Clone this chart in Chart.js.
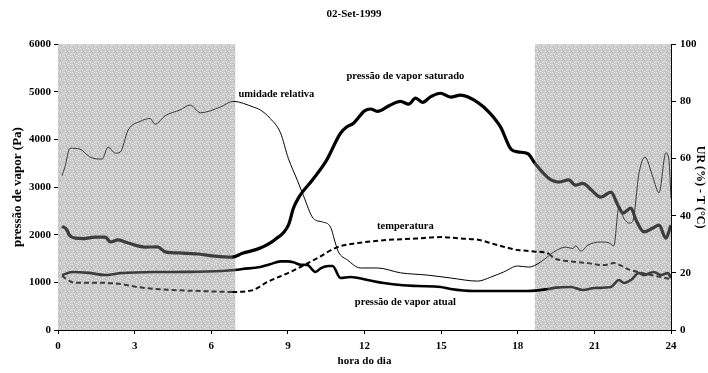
<!DOCTYPE html>
<html>
<head>
<meta charset="utf-8">
<script src="https://cdn.jsdelivr.net/npm/chart.js@4"></script>
<style>
  body { margin: 0; background: #fff; }
  canvas { display: block; }
</style>
</head>
<body>
<canvas id="myChart" width="708" height="373"></canvas>
<script>
    // pressão de vapor saturado (Pa)
    const horasSat = [0.16, 0.35, 0.45, 0.67, 1.0, 1.45, 1.85, 2.05, 2.35, 2.75, 3.4, 3.9, 4.2, 4.86, 5.5, 6.16, 6.82,
      7.22, 7.92, 8.5, 9.02, 9.22, 9.41, 9.96, 10.5, 11.06, 11.3, 11.57, 12.0, 12.24, 12.5, 13.0, 13.41, 13.73, 14.0,
      14.27, 14.6, 14.98, 15.37, 15.76, 16.43, 16.9, 17.33, 17.73, 18.0, 18.4, 18.67, 19.2, 19.6, 20.0, 20.25, 20.55,
      20.86, 21.25, 21.65, 21.92, 22.12, 22.43, 22.63, 22.94, 23.29, 23.53, 23.8, 24.0];
    const pSat = [2180, 2100, 1990, 1930, 1920, 1950, 1950, 1850, 1890, 1825, 1740, 1745, 1640, 1615, 1595, 1550, 1530,
      1610, 1720, 1900, 2200, 2560, 2770, 3150, 3550, 4130, 4260, 4340, 4600, 4640, 4590, 4720, 4800, 4740, 4870,
      4780, 4900, 4970, 4890, 4930, 4780, 4560, 4260, 3800, 3740, 3700, 3500, 3190, 3105, 3150, 3040, 3080,
      2950, 2790, 2895, 2620, 2455, 2560, 2310, 2060, 2140, 2200, 1930, 2200];

    // pressão de vapor atual (Pa)
    const horasAtual = [0.16, 0.55, 1.2, 1.84, 2.5, 3.8, 5.1, 6.43, 6.94, 7.22, 7.92, 8.3, 8.71, 9.0, 9.22, 9.5, 9.76,
      10.08, 10.3, 10.59, 10.75, 11.06, 11.45, 12.12, 12.75, 13.5, 14.08, 14.98, 15.37, 16.27, 17.33, 18.39, 19.18,
      19.5, 20.08, 20.55, 21.0, 21.65, 21.96, 22.16, 22.43, 22.75, 22.94, 23.33, 23.61, 23.88, 24.0];
    const pAtual = [1150, 1217, 1200, 1154, 1196, 1217, 1220, 1238, 1260, 1280, 1322, 1380, 1440, 1440, 1420, 1370, 1364,
      1217, 1300, 1343, 1343, 1091, 1112, 1049, 986, 940, 923, 902, 860, 818, 818, 818, 860,
      890, 902, 839, 881, 902, 1049, 986, 1050, 1196, 1154, 1217, 1154, 1196, 1091];

    // umidade relativa (%)
    const horasUR = [0.16, 0.27, 0.47, 0.86, 1.25, 1.73, 1.96, 2.24, 2.43, 2.75, 3.22, 3.61, 3.8, 4.2, 4.78, 5.18, 5.57,
      6.35, 6.86, 7.65, 7.92, 8.31, 8.71, 9.02, 9.37, 9.61, 10.0, 10.35, 10.67, 10.86, 10.98, 11.33, 11.84, 12.51,
      13.41, 14.47, 15.37, 16.43, 16.94, 17.45, 18.0, 18.43, 18.9, 19.22, 19.41, 19.88, 20.16, 20.27, 20.47, 20.75,
      21.25, 21.57, 21.76, 21.96, 22.16, 22.35, 22.5, 22.75, 22.98, 23.29, 23.53, 23.8, 23.92, 24.0];
    const ur = [54, 57, 63.6, 63.3, 60.5, 59.8, 64, 61.9, 62.2, 70, 73, 74, 72, 75, 77, 78.7, 76,
      78, 80, 78, 77, 74, 69, 60, 52.4, 47, 39, 37.8, 36, 30.4, 27.3, 24.5, 21.7, 21.7,
      20, 19.2, 18.2, 17.1, 18.5, 20.3, 22.4, 22, 23.8, 26, 27.3, 29, 28.5, 29.5, 27.6, 29.7,
      30.8, 30.5, 29.4, 43, 39, 37.4, 38, 55, 60.5, 53.5, 48, 62, 59.4, 46];

    // temperatura (°C)
    const horasTemp = [0.16, 0.27, 0.67, 1.84, 2.51, 3.14, 4.47, 5.76, 6.82, 7.33, 7.65, 8.2, 9.1, 10.16, 10.94, 11.73,
      12.9, 14.0, 15.0, 15.8, 16.5, 16.94, 17.5, 18.0, 18.63, 19.22, 19.41, 20.08, 20.75, 21.37, 21.76, 22.31, 22.82,
      23.61, 24.0];
    const temp = [19, 18.2, 16.5, 16.5, 16, 15, 14, 13.6, 13.3, 13.5, 14, 16.8, 20.3, 25.2, 29, 30.4,
      31.5, 32, 32.5, 32, 31.5, 30.4, 29, 28, 27.5, 26.6, 25.2, 24, 23.4, 22.7, 23.4, 21.3, 20,
      18.5, 17.8];

    // períodos sombreados (noite), em horas
    const noite = [[0, 6.94], [18.67, 24]];

    // rótulos das curvas: [texto, hora, valor no eixo da esquerda]
    const rotulos = [
      ['umidade relativa', 8.55, 4950],
      ['pressão de vapor saturado', 13.6, 5330],
      ['temperatura', 13.6, 2180],
      ['pressão de vapor atual', 13.6, 590]
    ];

    const toPts = (xs, ys) => xs.map((h, i) => ({x: h, y: ys[i]}));
    const naNoite = h => noite.some(([a, b]) => h >= a && h <= b);

    const serif = 'Liberation Serif';

    // textura cinza salpicada para as áreas sombreadas
    const pat = document.createElement('canvas');
    pat.width = 8; pat.height = 8;
    const pctx = pat.getContext('2d');
    pctx.fillStyle = '#c9c9c9';
    pctx.fillRect(0, 0, 8, 8);
    pctx.fillStyle = '#e8e8e8';
    [[0,0],[3,1],[6,0],[1,3],[5,3],[7,5],[2,6],[4,7],[6,6],[0,5]].forEach(([a, b]) => pctx.fillRect(a, b, 1, 1));
    pctx.fillStyle = '#b8b8b8';
    [[2,1],[7,2],[4,4],[1,7],[5,6],[3,3]].forEach(([a, b]) => pctx.fillRect(a, b, 1, 1));

    const sombra = {
      id: 'sombra',
      beforeDatasetsDraw(chart) {
        const {ctx, chartArea: {top, bottom}, scales: {x}} = chart;
        ctx.save();
        ctx.fillStyle = ctx.createPattern(pat, 'repeat');
        noite.forEach(([a, b]) => {
          const x0 = x.getPixelForValue(a);
          const x1 = x.getPixelForValue(b);
          ctx.fillRect(x0, top, x1 - x0, bottom - top);
        });
        ctx.restore();
      }
    };

    const textos = {
      id: 'textos',
      afterDatasetsDraw(chart) {
        const {ctx, scales: {x, y}} = chart;
        ctx.save();
        ctx.font = 'bold 10.5px "' + serif + '"';
        ctx.fillStyle = '#000';
        ctx.textAlign = 'center';
        ctx.textBaseline = 'middle';
        rotulos.forEach(([t, h, v]) => ctx.fillText(t, x.getPixelForValue(h), y.getPixelForValue(v)));
        ctx.restore();
      }
    };

    const corLinha = c => (naNoite(c.p0.parsed.x) && naNoite(c.p1.parsed.x)) ? '#3c3c3c' : '#000';
    const tickFont = {family: serif, size: 11, weight: 'bold'};
    const semMilhar = v => String(v);

    const config = {
      type: 'line',
      data: {
        datasets: [
          { label: 'pressão de vapor saturado', data: toPts(horasSat, pSat), yAxisID: 'y',
            borderColor: '#000', borderWidth: 3.2, segment: { borderColor: corLinha } },
          { label: 'pressão de vapor atual', data: toPts(horasAtual, pAtual), yAxisID: 'y',
            borderColor: '#000', borderWidth: 2.6, segment: { borderColor: corLinha } },
          { label: 'umidade relativa', data: toPts(horasUR, ur), yAxisID: 'y2',
            borderColor: '#000', borderWidth: 1, segment: { borderColor: corLinha } },
          { label: 'temperatura', data: toPts(horasTemp, temp), yAxisID: 'y2',
            borderColor: '#000', borderWidth: 2, borderDash: [5, 3], segment: { borderColor: corLinha } }
        ]
      },
      options: {
        responsive: false,
        animation: false,
        layout: { padding: 0 },
        elements: {
          point: { radius: 0 },
          line: { cubicInterpolationMode: 'monotone', fill: false }
        },
        plugins: {
          legend: { display: false },
          tooltip: { enabled: false },
          title: {
            display: true,
            text: '02-Set-1999',
            color: '#000',
            font: {family: serif, size: 11, weight: 'bold'},
            padding: {top: 8, bottom: 23}
          }
        },
        scales: {
          x: {
            type: 'linear',
            min: 0, max: 24,
            ticks: { stepSize: 3, color: '#000', font: tickFont, padding: 6, maxRotation: 0, callback: semMilhar },
            grid: { drawOnChartArea: false, color: '#000', tickLength: 4 },
            border: { color: '#000', width: 1 },
            title: { display: true, text: 'hora do dia', color: '#000',
              font: {family: serif, size: 11, weight: 'bold'}, padding: {top: 4, bottom: 5} },
            afterFit: s => { s.height = 43; }
          },
          y: {
            position: 'left',
            min: 0, max: 6000,
            ticks: { stepSize: 1000, color: '#000', font: tickFont, padding: 3, callback: semMilhar },
            grid: { drawOnChartArea: false, color: '#000', tickLength: 4 },
            border: { color: '#000', width: 1 },
            title: { display: true, text: 'pressão de vapor (Pa)', color: '#000',
              font: {family: serif, size: 13, weight: 'bold'}, padding: {top: 10, bottom: 0} },
            afterFit: s => { s.width = 58; }
          },
          y2: {
            position: 'right',
            min: 0, max: 100,
            ticks: { stepSize: 20, color: '#000', font: tickFont, padding: 4, callback: semMilhar },
            grid: { drawOnChartArea: false, color: '#000', tickLength: 5 },
            border: { color: '#000', width: 1 },
            title: { display: true, text: 'UR (%) - T (°C)', color: '#000',
              font: {family: serif, size: 12, weight: 'bold'}, padding: {top: 1, bottom: 0} },
            afterFit: s => { s.width = 37; }
          }
        }
      },
      plugins: [sombra, textos]
    };

    const myChart = new Chart(document.getElementById('myChart'), config);
</script>
</body>
</html>
